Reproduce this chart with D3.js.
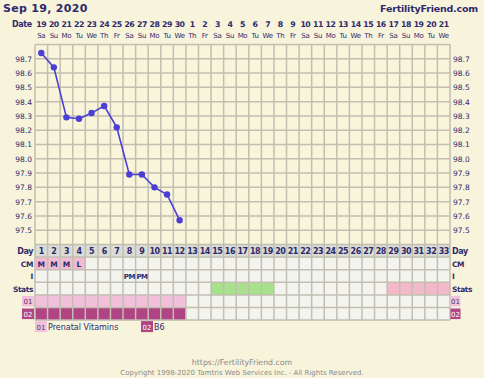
<!DOCTYPE html>
<html>
<head>
<meta charset="utf-8">
<script src="https://cdn.jsdelivr.net/npm/d3@7"></script>
<style>
  body { margin: 0; background: #f8f4dc; }
  svg { display: block; }
</style>
</head>
<body>
<div id="chart"></div>
<script>
const dateNums = [19,20,21,22,23,24,25,26,27,28,29,30,1,2,3,4,5,6,7,8,9,10,11,12,13,14,15,16,17,18,19,20,21]
const weekdays = ["Sa","Su","Mo","Tu","We","Th","Fr","Sa","Su","Mo","Tu","We","Th","Fr","Sa","Su","Mo","Tu","We","Th","Fr","Sa","Su","Mo","Tu","We","Th","Fr","Sa","Su","Mo","Tu","We"]
const cycleDays = [1,2,3,4,5,6,7,8,9,10,11,12,13,14,15,16,17,18,19,20,21,22,23,24,25,26,27,28,29,30,31,32,33]
const temps = [98.74,98.64,98.29,98.28,98.32,98.37,98.22,97.89,97.89,97.80,97.75,97.57]
const tempTicks = [97.5,97.6,97.7,97.8,97.9,98.0,98.1,98.2,98.3,98.4,98.5,98.6,98.7]
const cmDays = [1,2,3,4]
const cmVals = ["M","M","M","L"]
const iDays = [8,9]
const iVals = ["PM","PM"]
const greenDays = [15,16,17,18,19]
const pinkDays = [29,30,31,32,33]
const supp01Days = [1,2,3,4,5,6,7,8,9,10,11,12]
const supp02Days = [1,2,3,4,5,6,7,8,9,10,11,12]
const legend = [{code:"01", name:"Prenatal Vitamins"}, {code:"02", name:"B6"}]

const width = 484
const height = 378
const font = "Verdana, 'DejaVu Sans', sans-serif"
const navy = "#2e2a6b"
const gridCol = "#c2beb0"

const svg = d3.select("#chart").append("svg")
    .attr("width", width).attr("height", height)
    .style("font-family", font)

svg.append("rect").attr("width", width).attr("height", height).attr("fill", "#f8f4dc")

const x = d3.scaleBand().domain(cycleDays).range([35, 450])
const cw = x.bandwidth()
const y = d3.scaleLinear().domain([97.4, 98.8]).range([244.5, 44.5])

// title
svg.append("text").attr("x", 3).attr("y", 11.5)
    .attr("fill", navy).style("font-size", "11px").style("font-weight", "bold")
    .style("letter-spacing", "0.3px")
    .text("Sep 19, 2020")
svg.append("text").attr("x", 478).attr("y", 11.5).attr("text-anchor", "end")
    .attr("fill", navy).style("font-size", "9.5px").style("font-weight", "bold")
    .style("letter-spacing", "-0.2px")
    .text("FertilityFriend.com")

// date header
svg.append("text").attr("x", 32).attr("y", 27).attr("text-anchor", "end")
    .attr("fill", navy).style("font-size", "8px").style("font-weight", "bold")
    .style("letter-spacing", "-0.3px").text("Date")
svg.append("g").selectAll("text").data(dateNums).join("text")
    .attr("x", (d, i) => x(cycleDays[i]) + cw / 2).attr("y", 26.5)
    .attr("text-anchor", "middle").attr("fill", navy)
    .style("font-size", "7.8px").style("font-weight", "bold").style("letter-spacing", "-0.5px")
    .text(d => d)
svg.append("g").selectAll("text").data(weekdays).join("text")
    .attr("x", (d, i) => x(cycleDays[i]) + cw / 2).attr("y", 37.5)
    .attr("text-anchor", "middle").attr("fill", navy)
    .style("font-size", "7px").style("letter-spacing", "-0.3px")
    .text(d => d)

// temperature grid
const grid = svg.append("g")
grid.append("rect").attr("x", 35).attr("y", 44.5).attr("width", 415).attr("height", 200)
    .attr("fill", "#f8f5da")
grid.selectAll("line.h").data(tempTicks).join("line")
    .attr("x1", 35).attr("x2", 450).attr("y1", d => y(d)).attr("y2", d => y(d))
    .attr("stroke", gridCol).attr("stroke-width", 1.5)
grid.selectAll("line.v").data(cycleDays.concat([34])).join("line")
    .attr("x1", d => d === 34 ? 450 : x(d)).attr("x2", d => d === 34 ? 450 : x(d))
    .attr("y1", 44.5).attr("y2", 244.5)
    .attr("stroke", gridCol).attr("stroke-width", 1.5)
grid.append("line").attr("x1", 35).attr("x2", 450).attr("y1", 44.5).attr("y2", 44.5)
    .attr("stroke", gridCol).attr("stroke-width", 1.5)

// axes
const yLeft = svg.append("g").attr("transform", "translate(35,0)")
    .call(d3.axisLeft(y).tickValues(tempTicks).tickFormat(d3.format(".1f")).tickSize(0).tickPadding(3))
const yRight = svg.append("g").attr("transform", "translate(450,0)")
    .call(d3.axisRight(y).tickValues(tempTicks).tickFormat(d3.format(".1f")).tickSize(0).tickPadding(3))
for (const a of [yLeft, yRight]) {
    a.select(".domain").remove()
    a.selectAll("text").attr("fill", navy).style("font-size", "7.5px").style("font-family", font)
}

// temperature line
const pts = temps.map((t, i) => [cycleDays[i], t])
svg.append("path").datum(pts)
    .attr("fill", "none").attr("stroke", "#4a3ed6").attr("stroke-width", 1.6)
    .attr("d", d3.line().x(d => x(d[0]) + cw / 2).y(d => y(d[1])))
svg.append("g").selectAll("circle").data(pts).join("circle")
    .attr("cx", d => x(d[0]) + cw / 2).attr("cy", d => y(d[1])).attr("r", 3.2)
    .attr("fill", "#4a3ed6")

// bottom table
const rowH = 12.6
const rows = ["Day", "CM", "I", "Stats", "01", "02"]
const rowY = d3.scaleBand().domain(rows).range([244.5, 244.5 + rowH * rows.length])
const table = svg.append("g")

rows.forEach(r => {
    table.append("g").selectAll("rect").data(cycleDays).join("rect")
        .attr("x", d => x(d)).attr("y", rowY(r)).attr("width", cw).attr("height", rowH)
        .attr("fill", d => {
            if (r === "Day") return "#dcdcd6"
            if (r === "CM" && cmDays.includes(d)) return "#f3bad3"
            if (r === "Stats" && greenDays.includes(d)) return "#a8e18c"
            if (r === "Stats" && pinkDays.includes(d)) return "#f4b8cb"
            if (r === "01" && supp01Days.includes(d)) return "#f3c0dc"
            if (r === "02" && supp02Days.includes(d)) return "#b04484"
            return "#f4f4ee"
        })
})
// table grid lines
table.selectAll("line.v").data(cycleDays.concat([34])).join("line")
    .attr("x1", d => d === 34 ? 450 : x(d)).attr("x2", d => d === 34 ? 450 : x(d))
    .attr("y1", 244.5).attr("y2", 244.5 + rowH * rows.length)
    .attr("stroke", gridCol).attr("stroke-width", 1.5)
table.selectAll("line.h").data(d3.range(rows.length + 1)).join("line")
    .attr("x1", 35).attr("x2", 450)
    .attr("y1", i => 244.5 + i * rowH).attr("y2", i => 244.5 + i * rowH)
    .attr("stroke", gridCol).attr("stroke-width", 1.5)

// day numbers
table.append("g").selectAll("text").data(cycleDays).join("text")
    .attr("x", d => x(d) + cw / 2).attr("y", rowY("Day") + 9.8)
    .attr("text-anchor", "middle").attr("fill", navy)
    .style("font-size", "8px").style("font-weight", "bold").style("letter-spacing", "-0.5px")
    .text(d => d)
table.append("g").selectAll("text").data(cmDays).join("text")
    .attr("x", d => x(d) + cw / 2).attr("y", rowY("CM") + 9.5)
    .attr("text-anchor", "middle").attr("fill", navy)
    .style("font-size", "7.5px").style("font-weight", "bold").text((d, i) => cmVals[i])
table.append("g").selectAll("text").data(iDays).join("text")
    .attr("x", d => x(d) + cw / 2).attr("y", rowY("I") + 9.5)
    .attr("text-anchor", "middle").attr("fill", navy)
    .style("font-size", "7px").style("font-weight", "bold").style("letter-spacing", "-0.6px")
    .text((d, i) => iVals[i])

// row labels
const labelRows = ["Day", "CM", "I", "Stats"]
labelRows.forEach(r => {
    svg.append("text").attr("x", 33).attr("y", rowY(r) + 9.5).attr("text-anchor", "end")
        .attr("fill", navy).style("font-size", r === "Day" ? "8px" : "7.5px").style("font-weight", "bold")
        .style("letter-spacing", "-0.4px").text(r)
    svg.append("text").attr("x", 452).attr("y", rowY(r) + 9.5)
        .attr("fill", navy).style("font-size", r === "Day" ? "8px" : "7.5px").style("font-weight", "bold")
        .style("letter-spacing", "-0.4px").text(r)
})
const codeFill = {"01": "#f3c0dc", "02": "#b04484"}
const codeText = {"01": "#4a3a5a", "02": "#ffffff"}
;["01", "02"].forEach(r => {
    svg.append("rect").attr("x", 22).attr("y", rowY(r) + 1).attr("width", 12).attr("height", rowH - 2)
        .attr("fill", codeFill[r])
    svg.append("text").attr("x", 28).attr("y", rowY(r) + 9).attr("text-anchor", "middle")
        .attr("fill", codeText[r]).style("font-size", "7px").text(r)
    svg.append("rect").attr("x", 450.5).attr("y", rowY(r) + 1).attr("width", 10).attr("height", rowH - 2)
        .attr("fill", codeFill[r])
    svg.append("text").attr("x", 451).attr("y", rowY(r) + 9)
        .attr("fill", codeText[r]).style("font-size", "7px").text(r)
})

// legend
const legX = [35, 141]
const legY = 244.5 + rowH * rows.length + 1
legend.forEach((l, i) => {
    svg.append("rect").attr("x", legX[i]).attr("y", legY).attr("width", 12).attr("height", 11)
        .attr("fill", codeFill[l.code])
    svg.append("text").attr("x", legX[i] + 6).attr("y", legY + 8.5).attr("text-anchor", "middle")
        .attr("fill", codeText[l.code]).style("font-size", "7px").text(l.code)
    svg.append("text").attr("x", legX[i] + 13).attr("y", legY + 8.5)
        .attr("fill", navy).style("font-size", "8px").text(l.name)
})

// footer
svg.append("text").attr("x", 242).attr("y", 365).attr("text-anchor", "middle")
    .attr("fill", "#8a8a8a").style("font-size", "7.8px").text("https://FertilityFriend.com")
svg.append("text").attr("x", 242).attr("y", 375).attr("text-anchor", "middle")
    .attr("fill", "#8a8a8a").style("font-size", "7px")
    .text("Copyright 1998-2020 Tamtris Web Services Inc. - All Rights Reserved.")
</script>
</body>
</html>
